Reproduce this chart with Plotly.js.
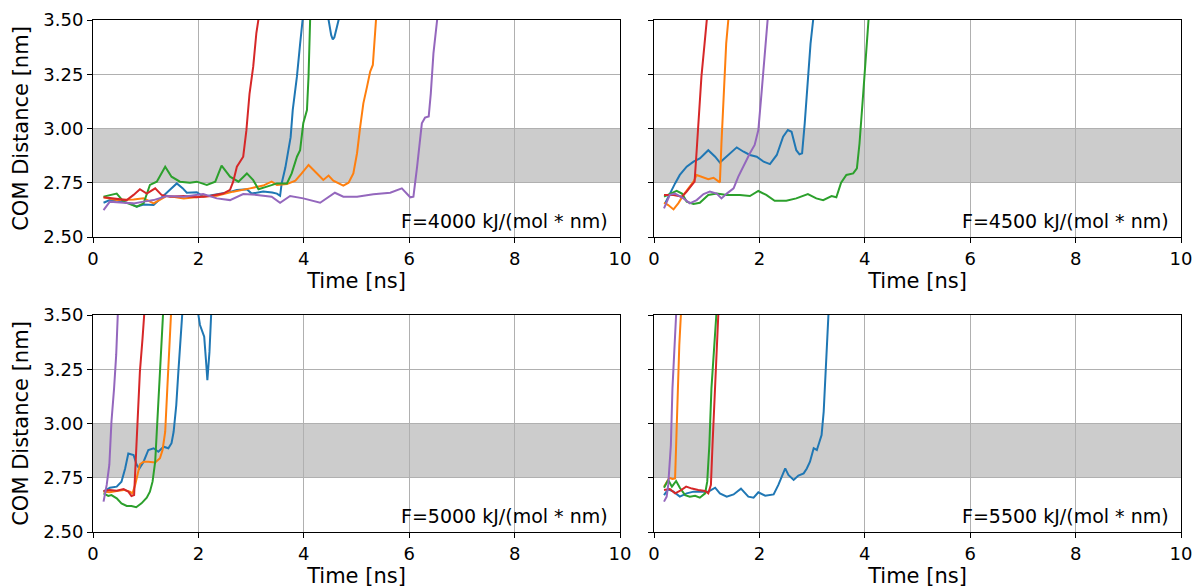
<!DOCTYPE html>
<html>
<head>
<meta charset="utf-8">
<script src="https://cdn.plot.ly/plotly-3.0.1.min.js"></script>
<style>
html,body{margin:0;padding:0;background:#fff;}
#chart{width:1196px;height:588px;}
</style>
</head>
<body>
<div id="chart"></div>
<script>
// ---------------- DATA ----------------
const seriesNames = ["run1","run2","run3","run4","run5"];
const seriesColors = ["#1f77b4","#ff7f0e","#2ca02c","#d62728","#9467bd"];
const panelLabels = ["F=4000 kJ/(mol * nm)","F=4500 kJ/(mol * nm)","F=5000 kJ/(mol * nm)","F=5500 kJ/(mol * nm)"];
const xTicks = [0,2,4,6,8,10];
const yTicks = [2.50,2.75,3.00,3.25,3.50];
const bandLow = 2.75, bandHigh = 3.00;

// F = 4000
const t4000_blue = [0.2,0.32,0.45,0.58,0.70,0.83,0.96,1.15,1.30,1.45,1.59,1.70,1.78,1.97,2.09,2.25,2.47,2.60,2.73,2.92,3.01,3.23,3.40,3.49,3.55,3.58,3.65,3.71,3.75,3.79,3.87,3.93,3.98,4.02,4.40,4.47,4.52,4.55,4.58,4.62,4.66,4.70];
const d4000_blue = [2.658,2.670,2.668,2.662,2.655,2.640,2.650,2.648,2.680,2.715,2.747,2.725,2.704,2.706,2.686,2.692,2.700,2.708,2.717,2.720,2.700,2.710,2.705,2.700,2.690,2.747,2.820,2.900,2.960,3.085,3.240,3.390,3.500,3.600,3.600,3.500,3.430,3.410,3.420,3.460,3.500,3.600];
const t4000_orange = [0.2,0.45,0.77,0.96,1.15,1.40,1.72,2.03,2.35,2.66,2.98,3.23,3.39,3.49,3.68,3.84,3.96,4.09,4.25,4.37,4.47,4.56,4.75,4.85,4.94,5.01,5.07,5.13,5.20,5.26,5.31,5.34,5.37,5.42];
const d4000_orange = [2.683,2.670,2.673,2.678,2.655,2.690,2.678,2.686,2.690,2.709,2.724,2.737,2.755,2.740,2.744,2.760,2.793,2.832,2.793,2.763,2.783,2.760,2.737,2.750,2.793,2.886,3.008,3.116,3.193,3.262,3.293,3.420,3.500,3.600];
const t4000_green = [0.2,0.45,0.58,0.83,0.96,1.08,1.21,1.37,1.49,1.65,1.84,1.97,2.16,2.32,2.44,2.60,2.76,2.92,3.04,3.14,3.30,3.49,3.68,3.77,3.87,3.93,3.99,4.06,4.09,4.12,4.16];
const d4000_green = [2.686,2.700,2.663,2.640,2.655,2.740,2.755,2.824,2.778,2.755,2.750,2.755,2.740,2.755,2.829,2.778,2.755,2.793,2.762,2.720,2.732,2.747,2.747,2.793,2.870,2.900,3.024,3.085,3.240,3.500,3.600];
const t4000_red = [0.2,0.45,0.64,0.77,0.89,1.02,1.18,1.30,1.46,1.72,1.97,2.22,2.47,2.60,2.66,2.73,2.85,2.91,2.97,3.04,3.10,3.15,3.20];
const d4000_red = [2.683,2.675,2.670,2.694,2.720,2.700,2.724,2.694,2.686,2.689,2.683,2.689,2.700,2.717,2.755,2.824,2.870,2.990,3.160,3.285,3.440,3.520,3.600];
const t4000_purple = [0.2,0.32,0.58,0.77,0.96,1.15,1.40,1.72,2.09,2.35,2.60,2.85,3.11,3.39,3.55,3.74,3.99,4.31,4.59,4.75,5.01,5.32,5.64,5.86,6.02,6.08,6.15,6.24,6.30,6.37,6.41,6.46,6.53,6.58];
const d4000_purple = [2.624,2.663,2.658,2.655,2.663,2.670,2.689,2.686,2.698,2.678,2.670,2.698,2.694,2.686,2.658,2.689,2.678,2.658,2.704,2.686,2.686,2.697,2.704,2.724,2.683,2.686,2.824,3.024,3.050,3.055,3.162,3.346,3.500,3.600];

// F = 4500
const t4500_blue = [0.21,0.30,0.40,0.49,0.62,0.75,0.87,1.03,1.16,1.25,1.38,1.57,1.70,1.82,1.95,2.08,2.20,2.33,2.45,2.54,2.61,2.70,2.76,2.81,2.86,2.92,2.97,3.02,3.06];
const d4500_blue = [2.655,2.700,2.747,2.786,2.824,2.847,2.862,2.900,2.870,2.843,2.870,2.913,2.893,2.878,2.870,2.847,2.836,2.878,2.962,2.993,2.985,2.900,2.881,2.886,3.024,3.239,3.390,3.500,3.600];
const t4500_orange = [0.19,0.27,0.37,0.46,0.56,0.65,0.75,0.81,0.90,1.03,1.13,1.25,1.28,1.32,1.37,1.41,1.45];
const d4500_orange = [2.658,2.647,2.627,2.655,2.694,2.724,2.755,2.786,2.778,2.766,2.773,2.752,2.932,3.162,3.392,3.500,3.600];
const t4500_green = [0.19,0.30,0.43,0.53,0.62,0.75,0.87,1.03,1.19,1.38,1.63,1.82,1.98,2.13,2.29,2.51,2.70,2.92,3.08,3.21,3.37,3.46,3.55,3.65,3.78,3.85,3.90,3.97,4.02,4.06,4.10];
const d4500_green = [2.686,2.700,2.713,2.700,2.663,2.652,2.658,2.694,2.700,2.694,2.694,2.689,2.712,2.694,2.667,2.667,2.678,2.698,2.678,2.670,2.689,2.683,2.750,2.786,2.793,2.816,2.932,3.162,3.362,3.500,3.600];
const t4500_red = [0.19,0.37,0.53,0.62,0.72,0.77,0.81,0.86,0.90,0.96,1.00,1.04];
const d4500_red = [2.694,2.694,2.686,2.709,2.740,2.755,2.900,3.085,3.239,3.392,3.500,3.600];
const t4500_purple = [0.19,0.30,0.40,0.56,0.68,0.81,0.94,1.06,1.19,1.28,1.38,1.51,1.60,1.69,1.82,1.91,1.98,2.04,2.10,2.15,2.19];
const d4500_purple = [2.632,2.694,2.700,2.678,2.655,2.670,2.698,2.709,2.700,2.678,2.700,2.724,2.778,2.824,2.886,2.924,2.993,3.162,3.362,3.500,3.600];

// F = 5000
const t5000_blue = [0.2,0.32,0.45,0.54,0.61,0.67,0.77,0.83,0.88,0.96,1.05,1.15,1.24,1.34,1.43,1.49,1.53,1.58,1.62,1.66,1.69,1.72,1.97,2.00,2.03,2.08,2.11,2.15,2.17,2.21,2.23,2.26];
const d5000_blue = [2.686,2.704,2.709,2.732,2.793,2.862,2.855,2.809,2.793,2.824,2.878,2.886,2.870,2.893,2.886,2.909,2.962,3.085,3.239,3.392,3.500,3.600,3.600,3.500,3.454,3.416,3.400,3.270,3.200,3.330,3.500,3.600];
const t5000_orange = [0.2,0.32,0.45,0.58,0.70,0.75,0.80,0.85,0.89,0.96,1.05,1.18,1.27,1.32,1.37,1.41,1.45,1.47,1.50];
const d5000_orange = [2.686,2.683,2.689,2.694,2.686,2.678,2.717,2.778,2.812,2.824,2.824,2.820,2.840,2.878,2.962,3.162,3.362,3.500,3.600];
const t5000_green = [0.2,0.29,0.35,0.45,0.54,0.64,0.73,0.82,0.92,1.02,1.08,1.13,1.18,1.21,1.25,1.29,1.32,1.35];
const d5000_green = [2.678,2.666,2.670,2.655,2.632,2.620,2.620,2.614,2.632,2.658,2.686,2.732,2.824,2.962,3.162,3.362,3.500,3.600];
const t5000_red = [0.2,0.32,0.45,0.58,0.67,0.73,0.78,0.81,0.85,0.89,0.94,0.97,1.00];
const d5000_red = [2.689,2.694,2.690,2.698,2.686,2.666,2.670,2.810,3.008,3.239,3.392,3.500,3.600];
const t5000_purple = [0.2,0.26,0.31,0.35,0.40,0.44,0.47,0.50];
const d5000_purple = [2.640,2.717,2.810,3.008,3.162,3.316,3.500,3.600];

// F = 5500
const t5500_blue = [0.19,0.27,0.37,0.49,0.62,0.75,0.87,1.03,1.16,1.25,1.38,1.51,1.65,1.79,1.89,1.98,2.11,2.27,2.36,2.44,2.49,2.55,2.65,2.74,2.84,2.90,2.96,3.03,3.09,3.14,3.18,3.22,3.25,3.28,3.30,3.33];
const d5500_blue = [2.670,2.697,2.686,2.663,2.678,2.686,2.686,2.686,2.704,2.678,2.663,2.673,2.700,2.663,2.658,2.683,2.667,2.673,2.717,2.763,2.793,2.763,2.740,2.760,2.770,2.793,2.824,2.886,2.878,2.916,2.947,3.055,3.239,3.423,3.500,3.600];
const t5500_orange = [0.19,0.24,0.29,0.35,0.40,0.42,0.45,0.48,0.51,0.54];
const d5500_orange = [2.709,2.732,2.750,2.744,2.747,2.900,3.162,3.362,3.500,3.600];
const t5500_green = [0.19,0.27,0.34,0.42,0.49,0.59,0.68,0.78,0.87,0.97,1.01,1.05,1.09,1.14,1.18,1.21];
const d5500_green = [2.704,2.740,2.709,2.735,2.704,2.670,2.663,2.667,2.658,2.678,2.732,2.900,3.162,3.362,3.500,3.600];
const t5500_red = [0.19,0.30,0.40,0.49,0.61,0.72,0.84,0.97,1.03,1.08,1.11,1.16,1.19,1.22,1.25];
const d5500_red = [2.694,2.698,2.678,2.689,2.709,2.700,2.694,2.689,2.678,2.717,2.900,3.162,3.362,3.500,3.600];
const t5500_purple = [0.19,0.24,0.27,0.32,0.35,0.39,0.41,0.44];
const d5500_purple = [2.640,2.663,2.717,2.900,3.162,3.362,3.500,3.600];

// ---------------- BUILD ----------------
const panels = [
  {t:[t4000_blue,t4000_orange,t4000_green,t4000_red,t4000_purple], d:[d4000_blue,d4000_orange,d4000_green,d4000_red,d4000_purple]},
  {t:[t4500_blue,t4500_orange,t4500_green,t4500_red,t4500_purple], d:[d4500_blue,d4500_orange,d4500_green,d4500_red,d4500_purple]},
  {t:[t5000_blue,t5000_orange,t5000_green,t5000_red,t5000_purple], d:[d5000_blue,d5000_orange,d5000_green,d5000_red,d5000_purple]},
  {t:[t5500_blue,t5500_orange,t5500_green,t5500_red,t5500_purple], d:[d5500_blue,d5500_orange,d5500_green,d5500_red,d5500_purple]}
];

const W = 1196, H = 588;
const xDomains = [[93/W,620/W],[654/W,1181/W],[93/W,620/W],[654/W,1181/W]];
const yDomains = [[1-237/H,1-20/H],[1-237/H,1-20/H],[1-532/H,1-315/H],[1-532/H,1-315/H]];
const FONT = "DejaVu Sans";

const traces = [];
panels.forEach((p, i) => {
  const sfx = i === 0 ? "" : String(i+1);
  for (let s = 0; s < 5; s++) {
    traces.push({
      type: "scatter", mode: "lines",
      x: p.t[s], y: p.d[s],
      name: seriesNames[s],
      line: {color: seriesColors[s], width: 2},
      xaxis: "x"+sfx, yaxis: "y"+sfx,
      showlegend: false, hoverinfo: "x+y"
    });
  }
});

const layout = {
  width: W, height: H,
  margin: {l:0, r:0, t:0, b:0},
  paper_bgcolor: "#ffffff", plot_bgcolor: "#ffffff",
  font: {family: FONT, size: 18, color: "#000"},
  showlegend: false,
  shapes: [], annotations: []
};

panels.forEach((p, i) => {
  const sfx = i === 0 ? "" : String(i+1);
  const xa = {
    domain: xDomains[i], range: [0,10], anchor: "y"+sfx,
    tickvals: xTicks, ticktext: xTicks.map(String),
    ticks: "outside", ticklen: 5, tickwidth: 1, tickcolor: "#000",
    showline: true, linecolor: "#000", linewidth: 1, mirror: true,
    showgrid: true, gridcolor: "#b0b0b0", gridwidth: 1, zeroline: false,
    tickfont: {family: FONT, size: 18, color: "#000"},
    title: {text: "Time [ns]", font: {family: FONT, size: 21, color: "#000"}, standoff: 4},
    automargin: false
  };
  const ya = {
    domain: yDomains[i], range: [2.5,3.5], anchor: "x"+sfx,
    tickvals: yTicks, ticktext: yTicks.map(v => v.toFixed(2)),
    ticks: "outside", ticklen: 5, tickwidth: 1, tickcolor: "#000",
    showline: true, linecolor: "#000", linewidth: 1, mirror: true,
    showgrid: true, gridcolor: "#b0b0b0", gridwidth: 1, zeroline: false,
    tickfont: {family: FONT, size: 18, color: "#000"},
    showticklabels: (i % 2 === 0),
    automargin: false
  };
  if (i % 2 === 0) {
    ya.title = {text: "COM Distance [nm]", font: {family: FONT, size: 21, color: "#000"}, standoff: 8};
  }
  layout["xaxis"+sfx] = xa;
  layout["yaxis"+sfx] = ya;

  layout.shapes.push({
    type: "rect", xref: "x"+sfx+" domain", yref: "y"+sfx,
    x0: 0, x1: 1, y0: bandLow, y1: bandHigh,
    fillcolor: "#cccccc", line: {width: 0}, layer: "below"
  });
  layout.annotations.push({
    xref: "x"+sfx+" domain", yref: "y"+sfx+" domain",
    x: 0.981, y: 0.072, xanchor: "right", yanchor: "middle",
    text: panelLabels[i], showarrow: false,
    font: {family: FONT, size: 19, color: "#000"}
  });
});

Plotly.newPlot("chart", traces, layout, {displayModeBar: false, staticPlot: true});
</script>
</body>
</html>
